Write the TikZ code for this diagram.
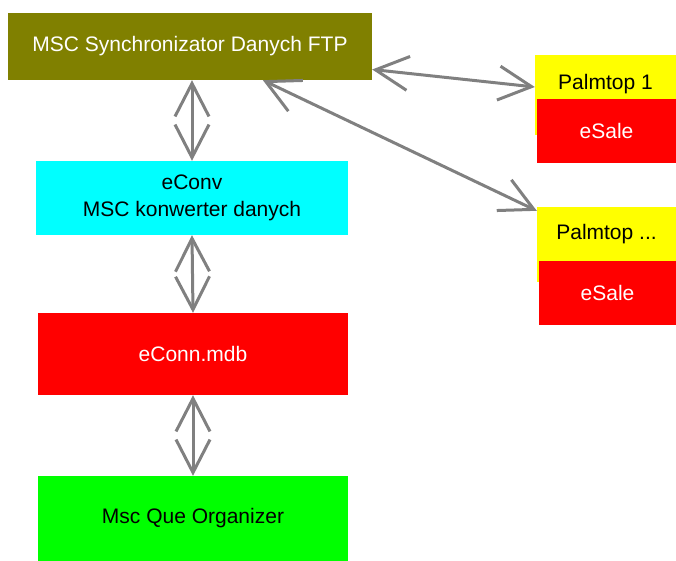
\documentclass[tikz,border=0pt]{standalone}
\usepackage{fontspec}
\setmainfont{Liberation Sans}
\usepackage{tikz}
\usetikzlibrary{positioning,arrows.meta,calc}
\definecolor{syncfill} {HTML}{808000}
\definecolor{convfill} {HTML}{00FFFF}
\definecolor{dbfill}   {HTML}{FF0000}
\definecolor{quefill}  {HTML}{00FF00}
\definecolor{palmfill} {HTML}{FFFF00}
\definecolor{linkgray} {HTML}{808080}
\colorlet{salefill}{dbfill}
\tikzset{
  % --- nodes
  box/.style    = {rectangle, inner sep=0pt, align=center, text=black,
                   font=\fontsize{21}{27}\selectfont},
  syncbox/.style= {box, fill=syncfill, text=white},
  convbox/.style= {box, fill=convfill},
  dbbox/.style  = {box, fill=dbfill, text=white},
  quebox/.style = {box, fill=quefill},
  palmbox/.style= {box, fill=palmfill},
  salebox/.style= {box, fill=salefill, text=white},
  % --- edges
  barb/.tip     = {Straight Barb[length=33pt,width=34pt]},
  link/.style   = {barb-barb, line width=3pt, draw=linkgray},
}
\begin{document}
\begin{tikzpicture}[x=1pt,y=-1pt]
  \useasboundingbox (0,0) rectangle (676,561);

  \node[syncbox, minimum width=364pt, minimum height=67pt] (sync) at (190,46.5)
    {MSC Synchronizator Danych FTP};
  \node[convbox, minimum width=312pt, minimum height=74pt] (conv) at (192,198)
    {eConv\\MSC konwerter danych};
  \node[dbbox, minimum width=310pt, minimum height=82pt] (conn) at (193,354)
    {eConn.mdb};
  \node[quebox, minimum width=310pt, minimum height=85pt] (que) at (193,518.5)
    {Msc Que Organizer};

  % palmtops
  \fill[palmfill] (535,55) rectangle (537,135);
  \fill[palmfill] (537,207) rectangle (539,282);
  \node[palmbox, minimum width=141pt, minimum height=45pt,
        text height=30pt, text depth=5pt] (palm1) at (605.5,77.5)
    {Palmtop 1};
  \node[salebox, minimum width=139pt, minimum height=64pt,
        text height=18pt, text depth=3pt] (sale1) at (606.5,131)
    {eSale};
  \node[palmbox, minimum width=139pt, minimum height=54pt] (palm2) at (606.5,234)
    {Palmtop ...};
  \node[salebox, minimum width=137pt, minimum height=64pt,
        text height=18pt, text depth=3pt] (sale2) at (607.5,293)
    {eSale};

  \draw[link] (conv.north |- sync.south) -- (conv.north);
  \draw[link] (conv.south) -- (conn.north);
  \draw[link] (conn.south) -- (que.north);
  \draw[link] ([yshift=-23pt]sync.east) -- ([yshift=-9.5pt]palm1.west);
  \draw[link] ($(sync.south west)!0.7!(sync.south east)$) -- ([yshift=-4pt]palm2.north west);
\end{tikzpicture}
\end{document}
